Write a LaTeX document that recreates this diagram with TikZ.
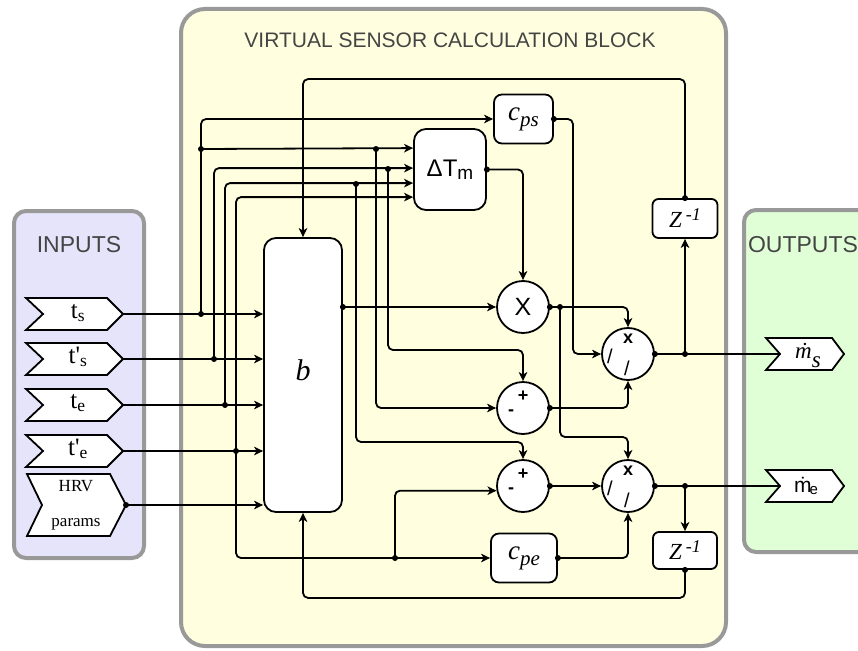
\documentclass[tikz,border=0pt]{standalone}
\usepackage{fontspec}
\setmainfont{Liberation Serif}
\setsansfont{Liberation Sans}
\newfontfamily\tagfont{Liberation Serif}
\usetikzlibrary{arrows.meta}
\definecolor{inbg}{HTML}{E6E4FA}
\definecolor{mainbg}{HTML}{FFFFE0}
\definecolor{outbg}{HTML}{E0FFD6}
\definecolor{pgray}{HTML}{999999}
\definecolor{tgray}{HTML}{444444}
\tikzset{
  wire/.style={line width=1.8pt, rounded corners=5pt},
  arr/.style={wire, -{Stealth[length=9pt,width=8.5pt,inset=2.5pt]}},
  jdot/.style={circle, fill=black, inner sep=0pt, minimum size=6pt},
  blk/.style={draw, line width=1.8pt, fill=white, rounded corners=8pt, inner sep=0pt},
  opn/.style={draw, circle, line width=1.8pt, fill=white, minimum size=52pt, inner sep=0pt},
  panel/.style={draw=pgray, line width=4pt},
  tagshape/.style={draw, line width=1.8pt, fill=white, line join=miter},
  ttl/.style={text=tgray, inner sep=0pt, font=\sffamily\fontsize{23}{26}\selectfont},
  sgn/.style={inner sep=0pt, font=\sffamily\bfseries\fontsize{18}{18}\selectfont},
  slsh/.style={inner sep=0pt, font=\sffamily\fontsize{20}{20}\selectfont},
  tagtxt/.style={inner sep=0pt, font=\tagfont\fontsize{25}{25}\selectfont},
  ztxt/.style={font=\fontsize{23}{23}\selectfont},
}
\begin{document}
\begin{tikzpicture}[x=1pt,y=-1pt]
\useasboundingbox (0,0) rectangle (858,650);
\clip (0,0) rectangle (858,650);
% panels
\draw[panel, fill=inbg, rounded corners=12pt] (14,211) rectangle (144,558);
\draw[panel, fill=mainbg, rounded corners=24pt] (181,9) rectangle (726,646);
\draw[panel, fill=outbg, rounded corners=12pt] (744,210) rectangle (900,552);
\node[ttl] (tin) at (79,245) {INPUTS};
\node[ttl] (tout) at (803,245) {OUTPUTS};
\node[ttl, font=\sffamily\fontsize{21}{24}\selectfont] (tmain) at (450,40) {VIRTUAL SENSOR CALCULATION BLOCK};

% input tags
\draw[tagshape] (26,298) -- (107,298) -- (123,314) -- (107,330) -- (26,330) -- (43,314) -- cycle;
\draw[tagshape] (26,343) -- (107,343) -- (123,359) -- (107,375) -- (26,375) -- (43,359) -- cycle;
\draw[tagshape] (26,389) -- (107,389) -- (123,405) -- (107,421) -- (26,421) -- (43,405) -- cycle;
\draw[tagshape] (26,435) -- (107,435) -- (123,451) -- (107,467) -- (26,467) -- (43,451) -- cycle;
\draw[tagshape] (27,474) -- (110,474) -- (126,505) -- (110,536) -- (27,536) -- (42,505) -- cycle;
\coordinate (ts) at (123,314);
\coordinate (tps) at (123,359);
\coordinate (te) at (123,405);
\coordinate (tpe) at (123,451);
\coordinate (hrv) at (126,505);
\node[tagtxt] (lts) at (78,313) {t\textsubscript{s}};
\node[tagtxt] (ltps) at (78,357) {t'\textsubscript{s}};
\node[tagtxt] (lte) at (78,403) {t\textsubscript{e}};
\node[tagtxt] (ltpe) at (78,449) {t'\textsubscript{e}};
\node[align=center, inner sep=0pt, font=\tagfont\fontsize{17}{35}\selectfont] (lhrv) at (76,505) {HRV\\params};

% output tags
\draw[tagshape] (766,338) -- (832,338) -- (844,354) -- (832,370) -- (766,370) -- (780,354) -- cycle;
\draw[tagshape] (766,470) -- (832,470) -- (844,486) -- (832,502) -- (766,502) -- (780,486) -- cycle;
\coordinate (msn) at (780,354);
\coordinate (men) at (780,486);
\node[inner sep=0pt, font=\fontsize{23}{23}\selectfont] (lms) at (808,355) {\textit{\.{m}}\raisebox{-9pt}{\textit{s}}};
\node[inner sep=0pt, font=\sffamily\fontsize{21}{21}\selectfont] (lme) at (806,486) {\.{m}\kern-2pt\raisebox{-2pt}{\fontsize{15}{15}\selectfont e}};

% blocks
\node[blk, minimum width=78pt, minimum height=274pt, rounded corners=12pt] (b) at (303,375) {};
\node[inner sep=0pt, font=\fontsize{30}{30}\selectfont\itshape] (lb) at (303,370) {b};
\node[blk, minimum width=72pt, minimum height=81pt, rounded corners=12pt, font=\sffamily\fontsize{24}{24}\selectfont] (dT) at (450,169.5) {ΔT\raisebox{-3pt}{\fontsize{19}{19}\selectfont m}};
\node[blk, minimum width=59pt, minimum height=49pt, font=\fontsize{27}{27}\selectfont] (cps) at (523.5,119) {\textit{c}\raisebox{-6pt}{\fontsize{21}{21}\selectfont\textit{ps}}};
\node[blk, minimum width=66pt, minimum height=49pt, font=\fontsize{27}{27}\selectfont] (cpe) at (524,558) {\textit{c}\raisebox{-6pt}{\fontsize{21}{21}\selectfont\textit{pe}}};
\node[blk, minimum width=65pt, minimum height=39pt, rounded corners=6pt, ztxt] (Z1) at (685,218.5) {\textit{Z}\,\raisebox{7pt}{\fontsize{18}{18}\selectfont\textit{-1}}};
\node[blk, minimum width=64pt, minimum height=37pt, rounded corners=6pt, ztxt] (Z2) at (685,550.5) {\textit{Z}\,\raisebox{7pt}{\fontsize{18}{18}\selectfont\textit{-1}}};

% operators
\node[opn, font=\sffamily\fontsize{25}{25}\selectfont] (X) at (523,307) {X};
\node[opn] (pm1) at (523,408) {};
\node[opn] (pm2) at (523,486) {};
\node[opn] (dv1) at (628,354) {};
\node[opn] (dv2) at (628,486) {};
\node[sgn] (p1p) at (523,396) {+};
\node[sgn] (p1m) at (511,413) {-};
\node[sgn] (p2p) at (523,474) {+};
\node[sgn] (p2m) at (511,491) {-};
\node[sgn] (d1x) at (628,339) {x};
\node[slsh] (d1a) at (610,356) {/};
\node[slsh] (d1b) at (627,368) {/};
\node[sgn] (d2x) at (628,471) {x};
\node[slsh] (d2a) at (610,488) {/};
\node[slsh] (d2b) at (627,500) {/};

% ΔTm input points
\path (dT.north west) ++(0,20) coordinate (dA);
\path (dT.north west) ++(0,40) coordinate (dB);
\path (dT.north west) ++(0,55) coordinate (dC);
\path (dT.north west) ++(0,69) coordinate (dD);

% junctions
\node[jdot] (j1) at (201,314) {};
\node[jdot] (j2) at (214,359) {};
\node[jdot] (j3) at (225,405) {};
\node[jdot] (j4) at (236,451) {};
\node[jdot] (j1b) at (201,149) {};
\node[jdot] (jA) at (376,149) {};
\node[jdot] (jB) at (388,169) {};
\node[jdot] (jC) at (356,184) {};
\node[jdot] (jE) at (395,558) {};
\node[jdot] (hrvd) at (hrv) {};
\coordinate (bo) at (b.east |- X.west);
\node[jdot] (bod) at (bo) {};
\node[jdot] (dTo) at (dT.east) {};
\node[jdot] (cpso) at (cps.east) {};
\node[jdot] (cpeo) at (cpe.east) {};
\node[jdot] (Xo) at (X.east) {};
\node[jdot] (jX) at (560,307) {};
\node[jdot] (pm1o) at (pm1.east) {};
\node[jdot] (pm2o) at (pm2.east) {};
\node[jdot] (dv1o) at (dv1.east) {};
\node[jdot] (dv2o) at (dv2.east) {};
\node[jdot] (jZ1) at (685,354) {};
\node[jdot] (jZ2) at (685,486) {};
\node[jdot] (Z1t) at (Z1.north) {};
\node[jdot] (Z2b) at (Z2.south) {};

% input wires
\draw[arr] (ts) -- (ts -| b.west);
\draw[arr] (tps) -- (tps -| b.west);
\draw[arr] (te) -- (te -| b.west);
\draw[arr] (tpe) -- (tpe -| b.west);
\draw[arr] (hrv) -- (hrv -| b.west);

% verticals to ΔTm and c_ps
\draw[arr] (j1.center) |- (cps.west);
\draw[arr] (j1b.center) -- (dA);
\draw[arr] (j2.center) |- (dB);
\draw[arr] (j3.center) |- (dC);
\draw[arr] (j4.center) |- (dD);
\draw[arr] (j4.center) |- (cpe.west);

% to sum nodes
\draw[arr] (jA.center) |- (pm1.west);
\draw[arr] (jB.center) -- ++(0,181) -| (pm1.north);
\draw[arr] (jC.center) -- ++(0,258) -| (pm2.north);
\draw[arr] (jE.center) |- (pm2.190);

% block outputs
\draw[arr] (bo) -- (X.west);
\draw[arr] (dT.east) -| (X.north);
\draw[arr] (cps.east) -- ++(19,0) |- (dv1.west);
\draw[arr] (X.east) -| (dv1.north);
\draw[arr] (jX.center) -- ++(0,130) -| (dv2.north);
\draw[arr] (pm1.east) -| (dv1.south);
\draw[arr] (pm2.east) -- (dv2.west);
\draw[arr] (cpe.east) -| (dv2.south);

% outputs
\draw[wire] (dv1.east) -- (msn);
\draw[wire] (dv2.east) -- (men);
\draw[arr] (jZ1.center) -- (Z1.south);
\draw[arr] (jZ2.center) -- (Z2.north);

% feedback
\draw[arr] (Z1.north) -- ++(0,-119) -| (b.north);
\draw[arr] (Z2.south) -- ++(0,28) -| (b.south);
\end{tikzpicture}
\end{document}
